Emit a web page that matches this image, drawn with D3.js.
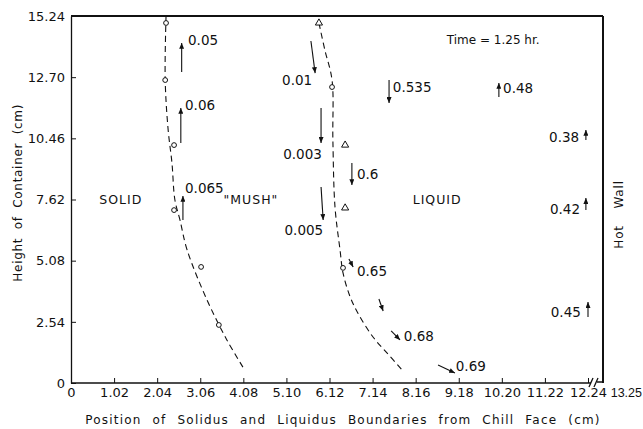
<!DOCTYPE html>
<html>
<head>
<meta charset="utf-8">
<script src="https://cdn.jsdelivr.net/npm/d3@7"></script>
<style>
  body { margin: 0; background: #fff; }
  svg { font-family: 'DejaVu Sans', sans-serif; }
</style>
</head>
<body>
<svg id="chart"></svg>
<script>
const width = 643;
const height = 429;
const margin = { top: 16, right: 40, bottom: 46, left: 71 };

// axis ticks (cm)
const xTickValues = [0, 1.02, 2.04, 3.06, 4.08, 5.10, 6.12, 7.14, 8.16, 9.18, 10.20, 11.22, 12.24];
const xTickLabels = ['0', '1.02', '2.04', '3.06', '4.08', '5.10', '6.12', '7.14', '8.16', '9.18', '10.20', '11.22', '12.24'];
const xWall = 13.25;
const yTickValues = [0, 2.54, 5.08, 7.62, 10.16, 12.70, 15.24];
const yTickLabels = ['0', '2.54', '5.08', '7.62', '10.46', '12.70', '15.24'];

// measured solidus points (circles) and fitted boundary
const solidusX = [2.25, 2.23, 2.44, 2.44, 3.08, 3.50];
const solidusY = [14.95, 12.58, 9.88, 7.18, 4.82, 2.41];
const solidusCurveX = [2.25, 2.23, 2.30, 2.39, 2.46, 2.58, 2.75, 3.22, 3.69, 4.07];
const solidusCurveY = [15.24, 12.58, 10.51, 9.14, 7.60, 6.77, 5.52, 3.45, 1.79, 0.66];

// measured liquidus points
const liqTriX = [5.87, 6.49, 6.49];
const liqTriY = [14.95, 9.88, 7.27];
const liqCircX = [6.18, 6.44];
const liqCircY = [12.29, 4.78];
const liquidusCurveX = [5.87, 6.01, 6.18, 6.20, 6.25, 6.37, 6.44, 6.61, 6.79, 7.15, 7.48, 7.84];
const liquidusCurveY = [14.95, 13.83, 12.58, 10.09, 7.31, 5.52, 4.57, 3.57, 2.91, 1.91, 1.25, 0.54];

// velocity arrows: tail x, tail y, head x, head y, label, label x, label y, anchor
const arrows = [
  [2.62, 12.91, 2.62, 14.12, '0.05', 2.77, 14.24, 'start'],
  [2.60, 9.97, 2.60, 11.42, '0.06', 2.70, 11.54, 'start'],
  [2.65, 6.77, 2.65, 7.77, '0.065', 2.70, 8.10, 'start'],
  [5.68, 14.20, 5.78, 12.87, '0.01', 5.71, 12.58, 'end'],
  [5.92, 11.42, 5.92, 9.97, '0.003', 5.94, 9.51, 'end'],
  [5.92, 8.14, 5.97, 6.77, '0.005', 5.97, 6.35, 'end'],
  [7.53, 12.58, 7.53, 11.63, '0.535', 7.62, 12.29, 'start'],
  [10.13, 11.88, 10.13, 12.46, '0.48', 10.23, 12.25, 'start'],
  [12.19, 10.09, 12.19, 10.51, '0.38', 12.03, 10.22, 'end'],
  [12.19, 7.18, 12.19, 7.68, '0.42', 12.05, 7.23, 'end'],
  [12.24, 2.74, 12.24, 3.36, '0.45', 12.07, 2.95, 'end'],
  [6.65, 9.14, 6.65, 8.22, '0.6', 6.77, 8.68, 'start'],
  [6.58, 5.15, 6.68, 4.82, '0.65', 6.77, 4.65, 'start'],
  [7.29, 3.49, 7.39, 2.99, '', 0, 0, 'start'],
  [7.58, 2.16, 7.79, 1.79, '0.68', 7.88, 1.95, 'start'],
  [8.69, 0.75, 9.09, 0.42, '0.69', 9.11, 0.71, 'start']
];

// region labels
const regionLabels = ['SOLID', '"MUSH"', 'LIQUID'];
const regionPosX = [1.18, 4.26, 8.67];
const regionPosY = [7.62, 7.62, 7.62];

const svg = d3.select('#chart')
  .attr('width', width)
  .attr('height', height);

const x = d3.scaleLinear()
  .domain([0, 12.24, xWall])
  .range([margin.left, 588, width - margin.right]);
const y = d3.scaleLinear()
  .domain([0, 15.24])
  .range([height - margin.bottom, margin.top]);

svg.append('defs').append('marker')
  .attr('id', 'head')
  .attr('viewBox', '0 -3 7 6')
  .attr('refX', 7)
  .attr('refY', 0)
  .attr('markerWidth', 6)
  .attr('markerHeight', 5)
  .attr('markerUnits', 'userSpaceOnUse')
  .attr('orient', 'auto')
  .append('path')
  .attr('d', 'M0,-3L7,0L0,3Z')
  .attr('fill', '#111');

// X axis
const xAxis = svg.append('g')
  .attr('transform', `translate(0,${y(0)})`)
  .call(d3.axisBottom(x)
    .tickValues(xTickValues)
    .tickFormat((d, i) => xTickLabels[i])
    .tickSizeInner(-5)
    .tickSizeOuter(0)
    .tickPadding(5));
xAxis.select('.domain').remove();
xAxis.selectAll('text').attr('font-size', 13).attr('fill', '#111').attr('font-family', 'DejaVu Sans, sans-serif');
xAxis.selectAll('line').attr('stroke', '#111');

// label for the hot wall position, past the axis break
xAxis.append('text')
  .attr('x', width - 1)
  .attr('y', 5)
  .attr('dy', '0.71em')
  .attr('fill', '#111')
  .attr('font-size', 12.5)
  .attr('text-anchor', 'end')
  .text('13.25');

// Y axis
const yAxis = svg.append('g')
  .attr('transform', `translate(${x(0)},0)`)
  .call(d3.axisLeft(y)
    .tickValues(yTickValues)
    .tickFormat((d, i) => yTickLabels[i])
    .tickSizeInner(-5)
    .tickSizeOuter(0)
    .tickPadding(6));
yAxis.select('.domain').attr('stroke', '#111').attr('stroke-width', 1.3);
yAxis.selectAll('text').attr('font-size', 13).attr('fill', '#111').attr('font-family', 'DejaVu Sans, sans-serif');
yAxis.selectAll('line').attr('stroke', '#111');

// frame: top, hot wall, bottom with break
const frame = svg.append('g').attr('stroke', '#111').attr('fill', 'none');
frame.append('line')
  .attr('x1', x(0)).attr('x2', x(xWall))
  .attr('y1', y(15.24)).attr('y2', y(15.24))
  .attr('stroke-width', 2);
frame.append('line')
  .attr('x1', x(xWall)).attr('x2', x(xWall))
  .attr('y1', y(15.24)).attr('y2', y(0))
  .attr('stroke-width', 2);
frame.append('line')
  .attr('x1', x(0)).attr('x2', x(12.24) + 3)
  .attr('y1', y(0)).attr('y2', y(0))
  .attr('stroke-width', 1.5);
frame.append('line')
  .attr('x1', x(12.24) + 9).attr('x2', x(xWall))
  .attr('y1', y(0) - 1).attr('y2', y(0) - 1)
  .attr('stroke-width', 1.5);
[0, 5].forEach(o => {
  frame.append('line')
    .attr('x1', x(12.24) + 1 + o).attr('x2', x(12.24) + 5 + o)
    .attr('y1', y(0) + 4).attr('y2', y(0) - 5)
    .attr('stroke-width', 1.3);
});

// boundary curves
const curve = d3.line()
  .x(d => x(d[0]))
  .y(d => y(d[1]))
  .curve(d3.curveCatmullRom);

svg.append('path')
  .datum(solidusCurveX.map((d, i) => [d, solidusCurveY[i]]))
  .attr('d', curve)
  .attr('fill', 'none')
  .attr('stroke', '#111')
  .attr('stroke-width', 1.1)
  .attr('stroke-dasharray', '6,4');

svg.append('path')
  .datum(liquidusCurveX.map((d, i) => [d, liquidusCurveY[i]]))
  .attr('d', curve)
  .attr('fill', 'none')
  .attr('stroke', '#111')
  .attr('stroke-width', 1.1)
  .attr('stroke-dasharray', '6,4');

// data points
svg.selectAll('.sol')
  .data(solidusX.map((d, i) => [d, solidusY[i]]))
  .join('circle')
  .attr('class', 'sol')
  .attr('cx', d => x(d[0]))
  .attr('cy', d => y(d[1]))
  .attr('r', 2.4)
  .attr('fill', '#fff')
  .attr('stroke', '#111')
  .attr('stroke-width', 1);

svg.selectAll('.liqc')
  .data(liqCircX.map((d, i) => [d, liqCircY[i]]))
  .join('circle')
  .attr('class', 'liqc')
  .attr('cx', d => x(d[0]))
  .attr('cy', d => y(d[1]))
  .attr('r', 2.4)
  .attr('fill', '#fff')
  .attr('stroke', '#111')
  .attr('stroke-width', 1);

svg.selectAll('.liqt')
  .data(liqTriX.map((d, i) => [d, liqTriY[i]]))
  .join('path')
  .attr('class', 'liqt')
  .attr('transform', d => `translate(${x(d[0])},${y(d[1])})`)
  .attr('d', d3.symbol(d3.symbolTriangle).size(22))
  .attr('fill', '#fff')
  .attr('stroke', '#111')
  .attr('stroke-width', 1);

// velocity arrows
svg.selectAll('.arrow')
  .data(arrows)
  .join('line')
  .attr('class', 'arrow')
  .attr('x1', d => x(d[0]))
  .attr('y1', d => y(d[1]))
  .attr('x2', d => x(d[2]))
  .attr('y2', d => y(d[3]))
  .attr('stroke', '#111')
  .attr('stroke-width', 1.1)
  .attr('marker-end', 'url(#head)');

svg.selectAll('.arrow-label')
  .data(arrows.filter(d => d[4] !== ''))
  .join('text')
  .attr('class', 'arrow-label')
  .attr('x', d => x(d[5]))
  .attr('y', d => y(d[6]))
  .attr('dy', '0.35em')
  .attr('text-anchor', d => d[7])
  .attr('font-size', 13.5)
  .attr('fill', '#111')
  .text(d => d[4]);

// region labels
svg.selectAll('.region')
  .data(regionLabels)
  .join('text')
  .attr('class', 'region')
  .attr('x', (d, i) => x(regionPosX[i]))
  .attr('y', (d, i) => y(regionPosY[i]))
  .attr('dy', '0.35em')
  .attr('text-anchor', 'middle')
  .attr('font-size', 12.5)
  .attr('letter-spacing', 1)
  .attr('fill', '#111')
  .text(d => d);

svg.append('text')
  .attr('x', x(9.18) - 12)
  .attr('y', y(14.24))
  .attr('dy', '0.35em')
  .attr('font-size', 12)
  .attr('fill', '#111')
  .text('Time = 1.25 hr.');

// axis titles
svg.append('text')
  .attr('x', 343)
  .attr('y', 420)
  .attr('dy', '0.35em')
  .attr('text-anchor', 'middle')
  .attr('font-size', 12)
  .attr('letter-spacing', 1.2)
  .attr('word-spacing', 6)
  .attr('fill', '#111')
  .text('Position of Solidus and Liquidus Boundaries from Chill Face (cm)');

svg.append('text')
  .attr('transform', `translate(18,${y(7.9)}) rotate(-90)`)
  .attr('dy', '0.35em')
  .attr('text-anchor', 'middle')
  .attr('font-size', 12)
  .attr('letter-spacing', 0.7)
  .attr('word-spacing', 4)
  .attr('fill', '#111')
  .text('Height of Container (cm)');

svg.append('text')
  .attr('transform', `translate(${x(xWall) + 16},${y(7.0)}) rotate(-90)`)
  .attr('dy', '0.35em')
  .attr('text-anchor', 'middle')
  .attr('font-size', 12)
  .attr('letter-spacing', 0.8)
  .attr('word-spacing', 12)
  .attr('fill', '#111')
  .text('Hot Wall');
</script>
</body>
</html>
